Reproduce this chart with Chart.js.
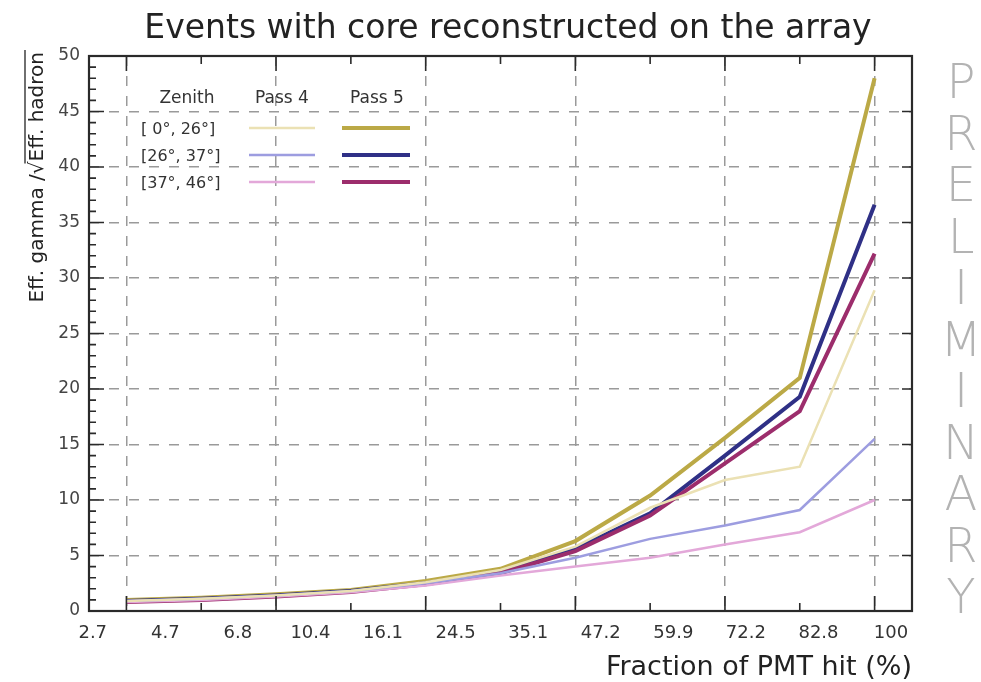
<!DOCTYPE html>
<html lang="en">
<head>
<meta charset="UTF-8">
<script src="https://cdn.jsdelivr.net/npm/chart.js"></script>
<title>Events with core reconstructed on the array</title>
<style>
  body { margin: 0; background: #fff; }
  #wrap { width: 981px; height: 682px; position: relative; }
</style>
</head>
<body>
<div id="wrap"><canvas id="myChart"></canvas></div>
<script>
// bin edge labels (fraction of PMT hit, %)
const edgeLabels = ['2.7', '4.7', '6.8', '10.4', '16.1', '24.5', '35.1', '47.2', '59.9', '72.2', '82.8', '100'];
const zenithLabels = ['[ 0°, 26°]', '[26°, 37°]', '[37°, 46°]'];

// one value per bin
const pass4_0_26  = [0.9, 1.1, 1.4, 1.8, 2.6, 3.7, 5.8, 9.3, 11.8, 13.0, 28.9];
const pass4_26_37 = [0.9, 1.1, 1.4, 1.8, 2.5, 3.4, 4.8, 6.5, 7.7, 9.1, 15.5];
const pass4_37_46 = [0.8, 1.0, 1.3, 1.7, 2.3, 3.2, 4.0, 4.8, 6.0, 7.1, 10.0];
const pass5_0_26  = [1.0, 1.2, 1.5, 1.9, 2.7, 3.8, 6.3, 10.4, 15.6, 21.0, 48.0];
const pass5_26_37 = [0.9, 1.1, 1.4, 1.8, 2.5, 3.5, 5.6, 8.8, 14.0, 19.3, 36.6];
const pass5_37_46 = [0.8, 1.0, 1.3, 1.7, 2.4, 3.4, 5.4, 8.6, 13.3, 18.0, 32.2];

const pass4Colors = ['#ebe1b4', '#9d9de0', '#e3a8d9'];
const pass5Colors = ['#bba946', '#2f3086', '#9c2d6c'];

const nBins = pass5_0_26.length;
const toPoints = arr => arr.map((v, i) => ({ x: i + 0.5, y: v }));

// label ticks spread over the axis the way ROOT placed them
const labelTicks = edgeLabels.map((l, i) => ({ value: 0.05 + i * 0.97, label: l }));
const majorX = [], minorX = [];
for (let i = 0; i < nBins; i++) (i % 2 === 0 ? majorX : minorX).push(i + 0.5);

const dsets = [];
[pass4_0_26, pass4_26_37, pass4_37_46].forEach((d, i) => dsets.push({
  label: 'Pass 4 ' + zenithLabels[i], data: toPoints(d),
  borderColor: pass4Colors[i], borderWidth: 2.5, pointRadius: 0, tension: 0
}));
[pass5_37_46, pass5_26_37, pass5_0_26].forEach((d, j) => {
  const i = 2 - j;
  dsets.push({
    label: 'Pass 5 ' + zenithLabels[i], data: toPoints(d),
    borderColor: pass5Colors[i], borderWidth: 4, pointRadius: 0, tension: 0
  });
});

const decor = {
  id: 'decor',
  afterDatasetsDraw(chart) {
    const ctx = chart.ctx, a = chart.chartArea;
    const xs = chart.scales.x, ys = chart.scales.y;
    ctx.save();
    ctx.strokeStyle = '#2a2a2a';
    ctx.lineWidth = 1.6;
    ctx.beginPath();
    majorX.forEach(v => {
      const px = xs.getPixelForValue(v);
      ctx.moveTo(px, a.bottom); ctx.lineTo(px, a.bottom - 15);
      ctx.moveTo(px, a.top); ctx.lineTo(px, a.top + 15);
    });
    minorX.forEach(v => {
      const px = xs.getPixelForValue(v);
      ctx.moveTo(px, a.bottom); ctx.lineTo(px, a.bottom - 8);
      ctx.moveTo(px, a.top); ctx.lineTo(px, a.top + 8);
    });
    for (let v = 0; v <= 50; v++) {
      const py = ys.getPixelForValue(v);
      const len = v % 5 === 0 ? 15 : 7;
      ctx.moveTo(a.left, py); ctx.lineTo(a.left + len, py);
      if (v % 5 === 0) { ctx.moveTo(a.right, py); ctx.lineTo(a.right - 10, py); }
    }
    ctx.stroke();
    ctx.lineWidth = 2.2;
    ctx.strokeRect(a.left, a.top, a.right - a.left, a.bottom - a.top);
    ctx.restore();
  },
  afterDraw(chart) {
    const ctx = chart.ctx, a = chart.chartArea;
    ctx.save();
    ctx.fillStyle = '#222';
    // title
    ctx.font = '33px "DejaVu Sans"';
    ctx.textAlign = 'center';
    ctx.textBaseline = 'alphabetic';
    ctx.fillText('Events with core reconstructed on the array', 508, 38);
    // x title
    ctx.font = '27px "DejaVu Sans"';
    ctx.textAlign = 'right';
    ctx.fillText('Fraction of PMT hit (%)', a.right, 675);
    // y title with sqrt bar
    ctx.save();
    ctx.translate(43, a.top - 4);
    ctx.rotate(-Math.PI / 2);
    ctx.font = '20px "DejaVu Sans"';
    ctx.textAlign = 'right';
    const under = 'Eff. hadron';
    ctx.fillText('Eff. gamma /√' + under, 0, 0);
    const w = ctx.measureText(under).width;
    ctx.strokeStyle = '#222';
    ctx.lineWidth = 1.3;
    ctx.beginPath();
    ctx.moveTo(-w - 2, -18); ctx.lineTo(2, -18);
    ctx.stroke();
    ctx.restore();
    // legend table
    ctx.font = '17px "DejaVu Sans"';
    ctx.textAlign = 'center';
    ctx.fillStyle = '#333';
    ctx.fillText('Zenith', 187, 103);
    ctx.fillText('Pass 4', 282, 103);
    ctx.fillText('Pass 5', 377, 103);
    ctx.font = '16px "DejaVu Sans"';
    zenithLabels.forEach((z, i) => {
      const yy = 128 + i * 27;
      ctx.textAlign = 'left';
      ctx.fillStyle = '#333';
      ctx.fillText(z, 141, yy + 6);
      ctx.lineWidth = 2.5;
      ctx.strokeStyle = pass4Colors[i];
      ctx.beginPath(); ctx.moveTo(249, yy); ctx.lineTo(315, yy); ctx.stroke();
      ctx.lineWidth = 4;
      ctx.strokeStyle = pass5Colors[i];
      ctx.beginPath(); ctx.moveTo(342, yy); ctx.lineTo(410, yy); ctx.stroke();
    });
    // PRELIMINARY
    ctx.font = '200 48px "DejaVu Sans"';
    ctx.fillStyle = '#b3b3b3';
    ctx.textAlign = 'center';
    ctx.textBaseline = 'middle';
    'PRELIMINARY'.split('').forEach((ch, i) => ctx.fillText(ch, 961, 86 + i * 51.5));
    ctx.restore();
  }
};

const ctx = document.getElementById('myChart').getContext('2d');
new Chart(ctx, {
  type: 'line',
  data: { datasets: dsets },
  options: {
    responsive: true,
    maintainAspectRatio: false,
    animation: false,
    layout: { padding: { top: 56, right: 69, left: 0, bottom: 0 } },
    plugins: { legend: { display: false }, tooltip: { enabled: false } },
    scales: {
      x: {
        type: 'linear', min: 0, max: nBins,
        afterBuildTicks: s => {
          const t = labelTicks.map(o => ({ value: o.value }));
          majorX.forEach(v => t.push({ value: v }));
          t.sort((p, q) => p.value - q.value);
          s.ticks = t;
        },
        afterFit: s => { s.height = 71; },
        ticks: {
          autoSkip: false, maxRotation: 0, padding: 12,
          color: '#333', font: { family: 'DejaVu Sans', size: 18 },
          callback: v => {
            const f = labelTicks.find(o => Math.abs(o.value - v) < 1e-6);
            return f ? f.label : '';
          }
        },
        grid: {
          drawTicks: false,
          color: c => (c.tick && majorX.some(v => Math.abs(v - c.tick.value) < 1e-6)) ? '#9a9a9a' : 'rgba(0,0,0,0)',
          lineWidth: 1.5
        },
        border: { display: false, dash: [10, 10] }
      },
      y: {
        min: 0, max: 50,
        afterFit: s => { s.width = 89; },
        ticks: {
          stepSize: 5, padding: 9,
          color: '#444', font: { family: 'DejaVu Sans', size: 17 }
        },
        grid: {
          drawTicks: false,
          color: c => (c.tick && c.tick.value > 0 && c.tick.value < 50) ? '#9a9a9a' : 'rgba(0,0,0,0)',
          lineWidth: 1.5
        },
        border: { display: false, dash: [10, 10] }
      }
    }
  },
  plugins: [decor]
});
</script>
</body>
</html>
